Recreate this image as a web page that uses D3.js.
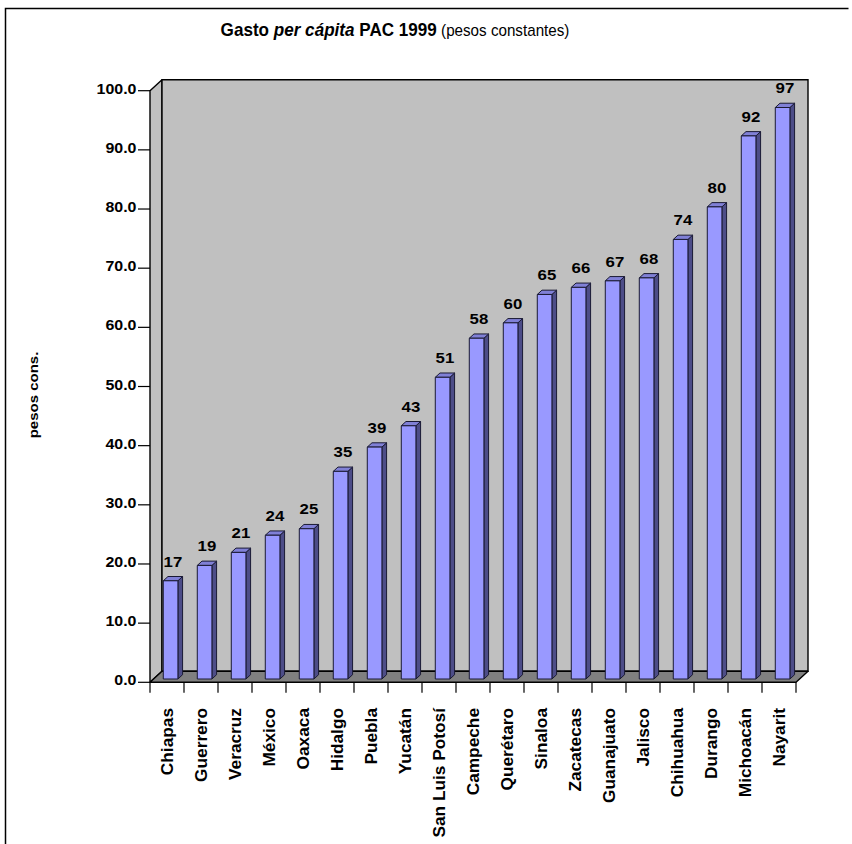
<!DOCTYPE html>
<html>
<head>
<meta charset="utf-8">
<script src="https://cdn.jsdelivr.net/npm/d3@7"></script>
<style>
  html, body { margin: 0; padding: 0; background: #fff; }
  svg { display: block; }
  text { font-family: "Liberation Sans", Arial, sans-serif; fill: #000; }
</style>
</head>
<body>
<div id="chart"></div>
<script>
// Per-capita PAC spending by state, 1999 (constant pesos)
const categories = ["Chiapas", "Guerrero", "Veracruz", "México", "Oaxaca", "Hidalgo",
  "Puebla", "Yucatán", "San Luis Potosí", "Campeche", "Querétaro", "Sinaloa",
  "Zacatecas", "Guanajuato", "Jalisco", "Chihuahua", "Durango", "Michoacán", "Nayarit"];
const values = [16.6, 19.2, 21.4, 24.3, 25.4, 35.1, 39.2, 42.8, 51.0, 57.6, 60.2,
  65.0, 66.2, 67.3, 67.8, 74.3, 79.8, 91.8, 96.6];
const yTicks = [0, 10, 20, 30, 40, 50, 60, 70, 80, 90, 100];
const titleBold = "Gasto ";
const titleItalic = "per cápita";
const titleBold2 = " PAC 1999";
const titleRegular = " (pesos constantes)";
const yAxisTitle = "pesos cons.";

const W = 852, H = 844;
const svg = d3.select("#chart").append("svg").attr("width", W).attr("height", H);

// Outer frame (left and top edges)
svg.append("path")
  .attr("d", "M5.5,850 V8.5 H848.5")
  .attr("fill", "none").attr("stroke", "#000").attr("stroke-width", 1.5);

// Plot geometry: oblique 3-D projection with a shallow depth
const depthX = 12, depthY = -11;
const x = d3.scaleBand().domain(categories).range([150, 796]).paddingInner(0.57).paddingOuter(0.285);
const xEdge = d3.scaleBand().domain(categories).range([150, 796]).padding(0);
const y = d3.scaleLinear().domain([0, 100]).range([682.3, 90.7]);
const d0 = 0.3, d1 = 0.69;           // bar front / back depth fractions

const y0 = y(0), yTop = y(100);
const xL = 150, xR = 796;

// Left wall
svg.append("path")
  .attr("d", `M${xL},${y0} L${xL},${yTop} L${xL + depthX},${yTop + depthY} L${xL + depthX},${y0 + depthY} Z`)
  .attr("fill", "#c0c0c0").attr("stroke", "#000").attr("stroke-width", 1.4).attr("stroke-linejoin", "round");
// Back wall
svg.append("path")
  .attr("d", `M${xL + depthX},${y0 + depthY} L${xL + depthX},${yTop + depthY} L${xR + depthX},${yTop + depthY} L${xR + depthX},${y0 + depthY} Z`)
  .attr("fill", "#c0c0c0").attr("stroke", "#000").attr("stroke-width", 1.4);
// Floor
svg.append("path")
  .attr("d", `M${xL},${y0} L${xL + depthX},${y0 + depthY} L${xR + depthX},${y0 + depthY} L${xR},${y0} Z`)
  .attr("fill", "#808080").attr("stroke", "#000").attr("stroke-width", 1.4).attr("stroke-linejoin", "round");

// Value axis ticks along the front-left edge
svg.append("g").selectAll("line").data(yTicks).join("line")
  .attr("x1", xL - 12).attr("x2", xL)
  .attr("y1", d => y(d)).attr("y2", d => y(d))
  .attr("stroke", "#000").attr("stroke-width", 1.2);

// Text helper: allows a horizontal stretch of the glyphs
function label(parent, px, py, str, opt) {
  const g = parent.append("g")
    .attr("transform", `translate(${px},${py})` + (opt.rotate ? ` rotate(${opt.rotate})` : "") + ` scale(${opt.sx || 1},1)`);
  const t = g.append("text")
    .attr("text-anchor", opt.anchor || "middle")
    .attr("font-size", opt.size)
    .attr("font-weight", opt.weight || "bold")
    .text(str);
  if (opt.dy) t.attr("dy", opt.dy);
  return t;
}

const fmtTick = d3.format(".1f");
const tickG = svg.append("g");
yTicks.forEach(t => label(tickG, 136.5, y(t) + 3, fmtTick(t), { size: 14, sx: 1.14, anchor: "end" }));

// Category tick marks under the floor
svg.append("g").selectAll("line").data(d3.range(categories.length + 1)).join("line")
  .attr("x1", i => xL + i * xEdge.step()).attr("x2", i => xL + i * xEdge.step())
  .attr("y1", y0).attr("y2", y0 + 10.5)
  .attr("stroke", "#000").attr("stroke-width", 1.2);

// Category labels, rotated
const catG = svg.append("g");
categories.forEach(c => {
  label(catG, xEdge(c) + xEdge.bandwidth() / 2, 708, c,
    { size: 16, sx: 1.08, rotate: -90, anchor: "end", dy: "0.36em" });
});

// Bars as 3-D columns
const bw = x.bandwidth();
const barsG = svg.append("g");
const fmtVal = d3.format(".0f");
categories.forEach((c, i) => {
  const v = values[i];
  const fx0 = x(c) + depthX * d0, fx1 = fx0 + bw;
  const fyB = y0 + depthY * d0, fyT = y(v) + depthY * d0;
  const ddx = depthX * (d1 - d0), ddy = depthY * (d1 - d0);
  const g = barsG.append("g").attr("stroke", "#1a1a33").attr("stroke-width", 1).attr("stroke-linejoin", "round");
  // side face
  g.append("path")
    .attr("d", `M${fx1},${fyB} L${fx1},${fyT} L${fx1 + ddx},${fyT + ddy} L${fx1 + ddx},${fyB + ddy} Z`)
    .attr("fill", "#4d4d88");
  // top face
  g.append("path")
    .attr("d", `M${fx0},${fyT} L${fx0 + ddx},${fyT + ddy} L${fx1 + ddx},${fyT + ddy} L${fx1},${fyT} Z`)
    .attr("fill", "#8080d6");
  // front face
  g.append("rect")
    .attr("x", fx0).attr("y", fyT).attr("width", bw).attr("height", fyB - fyT)
    .attr("fill", "#9999ff");
  // value label
  label(barsG, fx0 + bw / 2 + ddx / 2, fyT + ddy - 10, fmtVal(v), { size: 15, sx: 1.12 });
});

// Value axis title
label(svg, 38, 395, yAxisTitle, { size: 12, sx: 1.25, rotate: -90, anchor: "middle" });

// Chart title, slightly condensed
const titleG = svg.append("g").attr("transform", "translate(395,35.5) scale(0.95,1)");
const title = titleG.append("text")
  .attr("x", 0).attr("y", 0)
  .attr("text-anchor", "middle")
  .attr("font-size", 18).attr("font-weight", "bold");
title.append("tspan").text(titleBold);
title.append("tspan").attr("font-style", "italic").text(titleItalic);
title.append("tspan").text(titleBold2);
title.append("tspan").attr("font-weight", "normal").attr("font-size", 16).text(titleRegular);
</script>
</body>
</html>
